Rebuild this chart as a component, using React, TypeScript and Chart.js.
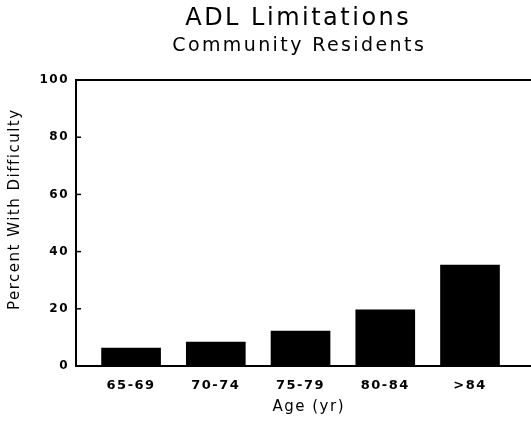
import React, { useEffect, useRef } from "react";
import { Chart, registerables } from "chart.js";

Chart.register(...registerables);

const categories = ["65-69", "70-74", "75-79", "80-84", ">84"];
const percentWithDifficulty = [6.3, 8.4, 12.2, 19.6, 35.3];
const yTicks = [0, 20, 40, 60, 80, 100];

const titleText = "ADL Limitations";
const subtitleText = "Community Residents";
const xTitleText = "Age (yr)";
const yTitleText = "Percent With Difficulty";

const FONT = "'DejaVu Sans', 'Liberation Sans', sans-serif";

function drawSpaced(ctx: any, text: string, cx: number, cy: number, font: string, spacing: number) {
  ctx.font = font;
  ctx.letterSpacing = spacing + "px";
  const w = ctx.measureText(text).width - spacing;
  ctx.textAlign = "left";
  ctx.textBaseline = "middle";
  ctx.fillText(text, cx - w / 2, cy);
}

const customPlugin = {
  id: "custom",
  beforeInit(chart: any) {
    chart.ctx.letterSpacing = "1.5px";
  },
  beforeDraw(chart: any) {
    chart.ctx.letterSpacing = "1.5px";
  },
  afterDraw(chart: any) {
    const ctx = chart.ctx;
    const y = chart.scales.y;
    const left = chart.chartArea.left;
    ctx.save();
    ctx.strokeStyle = "#000";
    ctx.lineWidth = 1.5;
    yTicks.forEach((v) => {
      if (v === 0 || v === 100) return;
      const py = y.getPixelForValue(v);
      ctx.beginPath();
      ctx.moveTo(left, py);
      ctx.lineTo(left + 5, py);
      ctx.stroke();
    });
    ctx.fillStyle = "#000";
    drawSpaced(ctx, titleText, 297, 19, `normal 24px ${FONT}`, 2.5);
    drawSpaced(ctx, subtitleText, 298, 46, `normal 19px ${FONT}`, 2.4);
    drawSpaced(ctx, xTitleText, 308, 407, `normal 15px ${FONT}`, 1.5);
    ctx.save();
    ctx.translate(15, 210);
    ctx.rotate(-Math.PI / 2);
    drawSpaced(ctx, yTitleText, 0, 0, `normal 15px ${FONT}`, 1.5);
    ctx.restore();
    ctx.restore();
  },
};

export default function App() {
  const ref = useRef<HTMLCanvasElement | null>(null);
  useEffect(() => {
    if (!ref.current) return;
    const chart = new Chart(ref.current, {
      type: "bar",
      data: {
        datasets: [
          {
            data: percentWithDifficulty.map((v, i) => ({ x: i, y: v })),
            backgroundColor: "#000",
            borderWidth: 0,
            barThickness: 59,
          },
        ],
      },
      plugins: [customPlugin],
      options: {
        animation: false,
        responsive: false,
        maintainAspectRatio: false,
        layout: { padding: { top: 80, left: 0, right: 0, bottom: 0 } },
        plugins: {
          legend: { display: false },
          tooltip: { enabled: false },
          title: { display: false },
        },
        scales: {
          x: {
            type: "linear",
            offset: false,
            min: -0.65,
            max: 4.72,
            afterFit: (s: any) => {
              s.height = 55;
            },
            afterBuildTicks: (s: any) => {
              s.ticks = categories.map((_, i) => ({ value: i }));
            },
            grid: { display: false },
            border: { display: true, color: "#000", width: 2 },
            ticks: {
              autoSkip: false,
              maxRotation: 0,
              padding: 4,
              color: "#000",
              font: { family: FONT, size: 13, weight: "bold" as any },
              callback: (v: any) => categories[v as number] ?? "",
            },
          },
          y: {
            type: "linear",
            min: 0,
            max: 100,
            afterFit: (s: any) => {
              s.width = 76;
            },
            afterBuildTicks: (s: any) => {
              s.ticks = yTicks.map((v) => ({ value: v }));
            },
            grid: {
              drawTicks: false,
              color: (c: any) => (c.tick && c.tick.value === 100 ? "#000" : "rgba(0,0,0,0)"),
              lineWidth: 2,
            },
            border: { display: true, color: "#000", width: 2 },
            ticks: {
              padding: 7,
              color: "#000",
              font: { family: FONT, size: 12, weight: "bold" as any },
            },
          },
        },
      },
    });
    return () => chart.destroy();
  }, []);
  return (
    <div style={{ position: "fixed", left: 0, top: 0, width: 531, height: 421, background: "#fff" }}>
      <canvas ref={ref} width={531} height={421} style={{ width: 531, height: 421 }} />
    </div>
  );
}
